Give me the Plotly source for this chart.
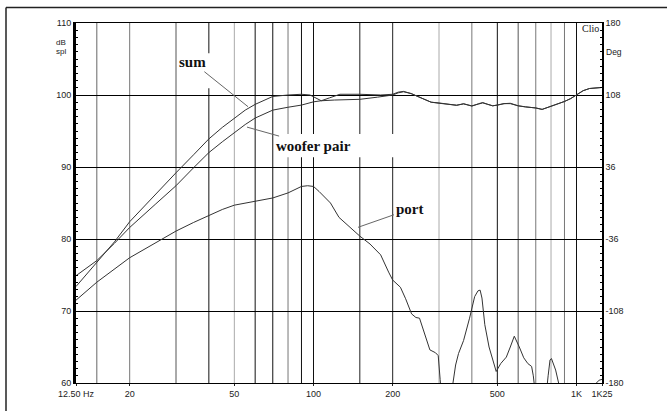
import plotly.graph_objects as go
import math

# ---------------- data ----------------
sum_f = [12.5, 15, 17.5, 20, 25, 30, 35, 40, 45, 50, 55, 60, 65, 70, 80, 90, 97, 102, 107, 115, 126, 150, 180, 200,
         210, 220, 235, 260, 280, 300, 330, 350, 372, 400, 425, 440, 460, 480, 500, 530, 560, 600, 640, 700, 740,
         800, 850, 900, 950, 1000, 1060, 1120, 1180, 1250]
sum_db = [73.4, 76.8, 79.6, 82.4, 86.2, 89.2, 91.7, 93.9, 95.5, 96.8, 97.9, 98.7, 99.3, 99.8, 100.0, 100.1, 100.0,
          99.6, 99.2, 99.6, 100.1, 100.1, 100.0, 100.1, 100.4, 100.5, 100.2, 99.5, 99.0, 98.9, 98.7, 98.55, 98.8,
          98.45, 98.8, 98.95, 98.7, 98.5, 98.6, 98.8, 98.85, 98.5, 98.35, 98.2, 98.0, 98.4, 98.7, 99.1, 99.5,
          100.05, 100.6, 100.9, 101.0, 101.05]

woofer_f = [12.5, 15, 17.5, 20, 25, 30, 35, 40, 45, 50, 55, 60, 65, 70, 80, 90, 100, 107, 120, 150, 175, 200,
            210, 220, 235, 260, 280, 300, 330, 350, 372, 400, 425, 440, 460, 480, 500, 530, 560, 600, 640, 700,
            740, 800, 850, 900, 950, 1000, 1060, 1120, 1180, 1250]
woofer_db = [74.9, 77.0, 79.4, 81.6, 84.8, 87.4, 89.9, 92.0, 93.5, 94.8, 95.9, 96.8, 97.4, 97.9, 98.3, 98.6, 99.05,
             99.2, 99.3, 99.4, 99.7, 100.0, 100.3, 100.45, 100.2, 99.5, 99.0, 98.85, 98.7, 98.6, 98.75, 98.5,
             98.75, 98.9, 98.7, 98.5, 98.6, 98.8, 98.8, 98.5, 98.35, 98.2, 98.0, 98.4, 98.7, 99.1, 99.5, 100.05,
             100.6, 100.9, 101.0, 101.05]

port_f = [12.5, 15, 20, 25, 30, 35, 40, 45, 50, 55, 60, 70, 80, 90, 95, 100, 105, 110, 116, 125, 138, 150, 164,
          180, 193, 200, 214, 224, 236, 245, 253, 262, 277, 291, 298, 303, 310, 325, 335, 339, 347, 356, 372, 392,
          410, 422, 430, 437, 448, 465, 479, 495, 515, 541, 560, 580, 606, 630, 653, 675, 685, 700, 740, 765, 780,
          793, 803, 820, 833, 855, 880, 950, 1050, 1150, 1190, 1220, 1250]
port_db = [71.5, 74.0, 77.4, 79.5, 81.1, 82.3, 83.3, 84.1, 84.7, 85.0, 85.2, 85.7, 86.4, 87.3, 87.4, 87.3, 86.6,
           85.8, 85.0, 83.0, 81.6, 80.4, 79.3, 77.8, 75.4, 74.3, 73.3, 71.7, 69.6, 69.1, 69.0, 67.3, 64.6, 64.2,
           63.8, 60.5, 56.0, 55.0, 57.0, 60.0, 62.5, 64.1, 65.9, 69.0, 72.0, 72.8, 72.9, 71.8, 68.1, 65.0, 63.2,
           61.6, 62.7, 63.6, 65.0, 66.5, 65.0, 63.5, 62.7, 62.3, 61.0, 58.0, 56.0, 58.0, 61.0, 63.2, 63.4, 62.6,
           61.8, 60.0, 57.0, 54.0, 54.0, 57.0, 60.0, 60.4, 60.5]

x_tickvals = [12.5, 20, 50, 100, 200, 500, 1000, 1250]
x_ticktext = ["12.50 Hz", "20", "50", "100", "200", "500", "1K", "1K25"]
y_tickvals = [60, 70, 80, 90, 100, 110]
deg_tickvals = [-180, -108, -36, 36, 108, 180]
deg_ticktext = ["-180", "-108", "-36", "36", "108", "180"]

grid_f = [15, 20, 30, 40, 50, 60, 70, 80, 90, 100, 150, 200, 300, 400, 500, 600, 700, 800, 900, 1000]
grid_shade = ["#666", "#777", "#555", "#111", "#aaa", "#111", "#111", "#777", "#111", "#111",
              "#222", "#222", "#aaa", "#777", "#111", "#555", "#777", "#aaa", "#777", "#111"]

# ---------------- layout geometry ----------------
W, H = 667, 411
L, R, T, B = 76, 602, 23, 393


def px(xp):
    return (xp - L) / (R - L)


def py(yp):
    return (B - yp) / (B - T)


line_style = dict(color="#333", width=1)

fig = go.Figure()
fig.add_trace(go.Scatter(x=sum_f, y=sum_db, mode="lines", line=line_style, name="sum"))
fig.add_trace(go.Scatter(x=woofer_f, y=woofer_db, mode="lines", line=line_style, name="woofer pair"))
fig.add_trace(go.Scatter(x=port_f, y=port_db, mode="lines", line=line_style, name="port"))
# invisible trace to activate the right (phase) axis
fig.add_trace(go.Scatter(x=[100], y=[0], yaxis="y2", mode="markers", marker=dict(opacity=0),
                         hoverinfo="skip", showlegend=False))

tick_font = dict(family="Liberation Sans", size=9, color="#222")

shapes = []
for f, c in zip(grid_f, grid_shade):
    shapes.append(dict(type="line", xref="x", yref="paper", x0=f, x1=f, y0=0, y1=1,
                       line=dict(color=c, width=1), layer="between"))
# white gaps behind labels
shapes.append(dict(type="rect", xref="paper", yref="paper", x0=px(177), x1=px(213), y0=py(90), y1=py(54),
                   fillcolor="white", line=dict(width=0), layer="between"))
shapes.append(dict(type="rect", xref="paper", yref="paper", x0=px(274), x1=px(396), y0=py(161), y1=py(137),
                   fillcolor="white", line=dict(width=0), layer="between"))
# outer frame (top and left edges only visible in the crop)
shapes.append(dict(type="line", xref="paper", yref="paper", x0=px(6), x1=px(680), y0=py(7), y1=py(7),
                   line=dict(color="#222", width=1.5), layer="above"))
shapes.append(dict(type="line", xref="paper", yref="paper", x0=px(6), x1=px(6), y0=py(7), y1=py(430),
                   line=dict(color="#222", width=1.5), layer="above"))

label_font = dict(family="Liberation Serif", size=15, color="#111", weight=700)
small = dict(family="Liberation Sans", size=8, color="#222")
annotations = [
    dict(text="sum", xref="paper", yref="paper", x=px(248), y=py(109), ax=192.5 - 248, ay=64.5 - 109,
         showarrow=True, arrowhead=0, arrowwidth=1, arrowcolor="#666", font=label_font, standoff=0),
    dict(text="woofer pair", xref="paper", yref="paper", x=px(247), y=py(130), ax=313 - 247, ay=148.5 - 130,
         showarrow=True, arrowhead=0, arrowwidth=1, arrowcolor="#666", font=label_font, standoff=0),
    dict(text="port", xref="paper", yref="paper", x=px(358), y=py(233), ax=409.5 - 358, ay=215 - 233,
         showarrow=True, arrowhead=0, arrowwidth=1, arrowcolor="#666", font=label_font, standoff=0),
    dict(text="dB", xref="paper", yref="paper", x=px(60.5), y=py(43.5), showarrow=False,
         xanchor="center", yanchor="middle", font=small),
    dict(text="spl", xref="paper", yref="paper", x=px(61), y=py(52), showarrow=False,
         xanchor="center", yanchor="middle", font=small),
    dict(text="Deg", xref="paper", yref="paper", x=px(614), y=py(53), showarrow=False,
         xanchor="center", yanchor="middle", font=dict(family="Liberation Sans", size=8.5, color="#222")),
    dict(text="Clio", xref="paper", yref="paper", x=px(590), y=py(28.5), showarrow=False,
         xanchor="center", yanchor="middle", font=dict(family="Liberation Serif", size=10, color="#222")),
]

fig.update_layout(
    width=W, height=H,
    margin=dict(l=L, r=W - R, t=T, b=H - B, pad=0),
    paper_bgcolor="white", plot_bgcolor="white",
    showlegend=False,
    shapes=shapes,
    annotations=annotations,
    xaxis=dict(type="log", range=[math.log10(12.5), math.log10(1250)], showgrid=False,
               tickvals=x_tickvals, ticktext=x_ticktext, ticks="outside", ticklen=2, tickcolor="#222",
               tickfont=tick_font, showline=True, linecolor="black", linewidth=1, mirror=True,
               zeroline=False, fixedrange=True),
    yaxis=dict(range=[60, 110], tickvals=y_tickvals, showgrid=True, gridcolor="black", gridwidth=1,
               showline=True, linecolor="black", linewidth=3, ticks="inside", ticklen=3, tickcolor="black",
               minor=dict(dtick=1, ticks="inside", ticklen=2, tickcolor="black", showgrid=False),
               tickfont=tick_font, zeroline=False, fixedrange=True),
    yaxis2=dict(range=[-180, 180], overlaying="y", side="right", tickvals=deg_tickvals,
                ticktext=deg_ticktext, showgrid=False, showline=True, linecolor="black", linewidth=1.5,
                ticks="inside", ticklen=3, tickcolor="black",
                minor=dict(tick0=-180, dtick=7.2, ticks="inside", ticklen=2, tickcolor="black"),
                tickfont=tick_font, zeroline=False, fixedrange=True),
)

fig.write_html("out.html")
